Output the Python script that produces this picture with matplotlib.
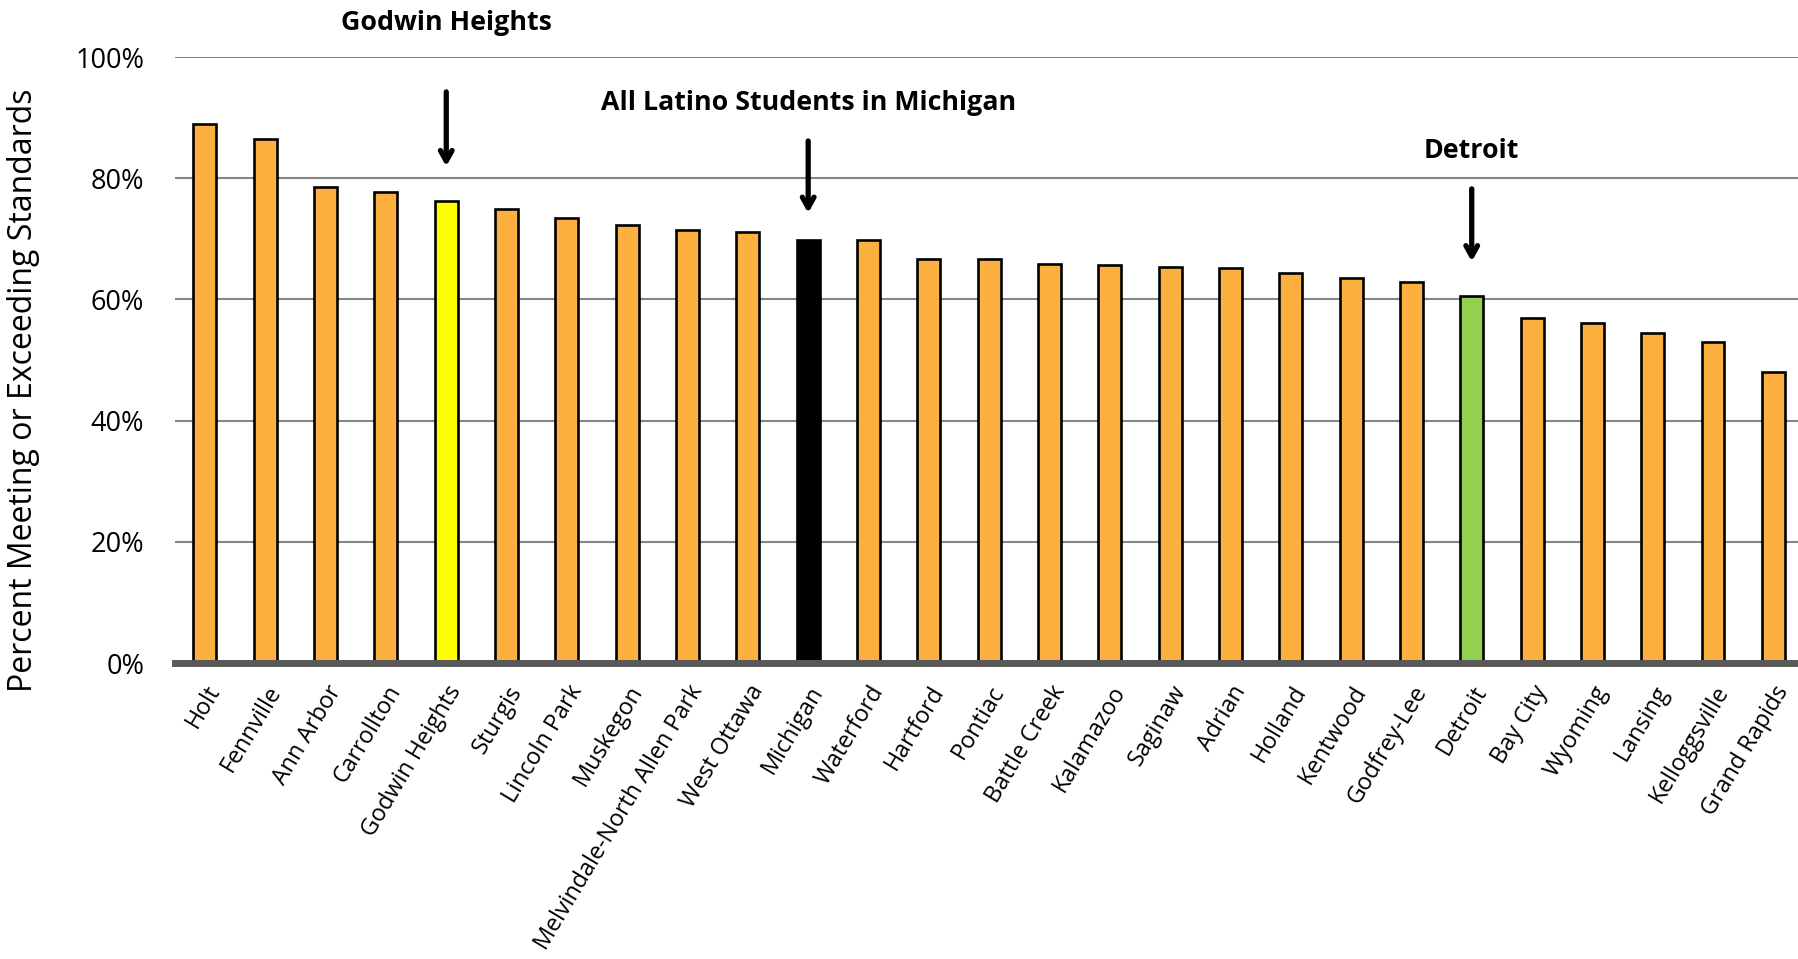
import matplotlib
matplotlib.use('Agg')  # no display
import matplotlib.pyplot as plt

# Data (share of Latino students meeting or exceeding standards)
districts = ["Holt", "Fennville", "Ann Arbor", "Carrollton", "Godwin Heights", "Sturgis",
             "Lincoln Park", "Muskegon", "Melvindale-North Allen Park", "West Ottawa", "Michigan",
             "Waterford", "Hartford", "Pontiac", "Battle Creek", "Kalamazoo", "Saginaw", "Adrian",
             "Holland", "Kentwood", "Godfrey-Lee", "Detroit", "Bay City", "Wyoming", "Lansing",
             "Kelloggsville", "Grand Rapids"]
percent = [0.889, 0.865, 0.786, 0.778, 0.763, 0.750, 0.734, 0.722, 0.715, 0.711, 0.698,
           0.698, 0.667, 0.667, 0.659, 0.657, 0.654, 0.651, 0.644, 0.636, 0.629, 0.605,
           0.569, 0.561, 0.544, 0.529, 0.481]
yticks = [0, 0.2, 0.4, 0.6, 0.8, 1.0]
ytick_labels = ["0%", "20%", "40%", "60%", "80%", "100%"]

# Highlighted bars and their callouts
highlight_colors = {"Godwin Heights": "#FFFF00", "Michigan": "#000000", "Detroit": "#92D050"}
callouts = [("Godwin Heights", "Godwin Heights"),
            ("Michigan", "All Latino Students in Michigan"),
            ("Detroit", "Detroit")]
# (arrow tail, arrow tip, text y) in data units
callout_pos = {"Godwin Heights": (0.947, 0.815, 1.056),
               "Michigan": (0.866, 0.738, 0.924),
               "Detroit": (0.787, 0.658, 0.845)}

base_color = "#FBB040"
colors = [highlight_colors.get(d, base_color) for d in districts]

fig = plt.figure(figsize=(17.99, 9.59), dpi=100)
ax = fig.add_axes([174.8 / 1799, 1 - 663 / 959, 1 - 174.8 / 1799 + 0.0025, (663 - 57) / 959])

x = list(range(len(districts)))
ax.bar(x, percent, width=0.38, color=colors, edgecolor="black", linewidth=1.9, zorder=3)

ax.set_ylim(0, 1)
ax.set_xlim(-0.5, len(districts) - 0.5)
ax.set_yticks(yticks)
ax.set_yticklabels(ytick_labels, fontsize=19.5, family="Open Sans")
ax.yaxis.grid(True, color="#868686", linewidth=1.5, zorder=0)
ax.tick_params(axis="y", length=0, pad=22)
ax.tick_params(axis="x", length=0, pad=13)
ax.set_xticks(x)
ax.set_xticklabels(districts, rotation=59, ha="right", rotation_mode="anchor",
                   fontsize=16.8, family="Open Sans")

for side in ["top", "right", "left"]:
    ax.spines[side].set_visible(False)
ax.spines["bottom"].set_color("#595959")
ax.spines["bottom"].set_linewidth(5)
ax.spines["bottom"].set_zorder(4)

ax.set_ylabel("Percent Meeting or Exceeding Standards", fontsize=23, family="Open Sans")
ax.yaxis.set_label_coords((40 - 174.8) / (1799 - 174.8), 0.45, transform=ax.transAxes)

# Callout arrows with bold labels
for name, label in callouts:
    i = districts.index(name)
    tail, tip, ty = callout_pos[name]
    ax.annotate("", xy=(i, tip), xytext=(i, tail),
                arrowprops=dict(arrowstyle="->,head_length=0.75,head_width=0.42", lw=3.8, color="black"),
                annotation_clip=False)
    ax.text(i, ty, label, ha="center", va="center", fontsize=19.3, fontweight="bold",
            family="Open Sans", clip_on=False)

plt.savefig("out.png", dpi=100)
